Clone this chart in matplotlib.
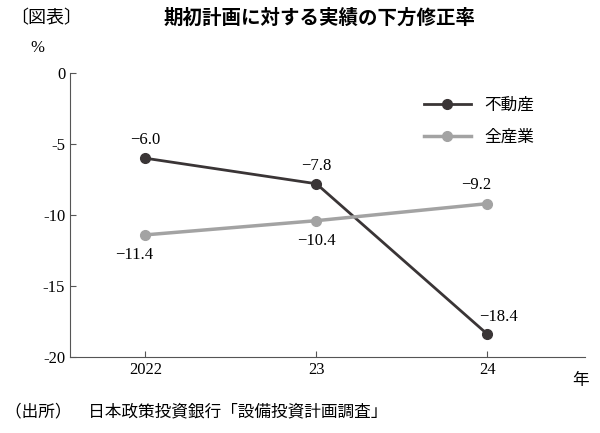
import matplotlib
matplotlib.use("Agg")
import matplotlib.pyplot as plt

years = ["2022", "23", "24"]
realestate = [-6.0, -7.8, -18.4]
allind = [-11.4, -10.4, -9.2]
yticks = [0, -5, -10, -15, -20]
ytick_labels = ["0", "-5", "-10", "-15", "-20"]

JP = ["Noto Sans CJK JP", "DejaVu Sans"]
SER = ["Liberation Serif", "Noto Sans CJK JP"]

fig = plt.figure(figsize=(6.0, 4.33), dpi=100)
ax = fig.add_axes([70/600, 1-357/433, 515/600, (357-73)/433])
x = list(range(len(years)))
ax.plot(x, realestate, color="#3a3536", lw=2, marker="o", ms=7, label="不動産")
ax.plot(x, allind, color="#a3a3a3", lw=2.5, marker="o", ms=7, label="全産業")
ax.set_xlim(-0.44, 2.57)
ax.set_ylim(-20, 0)
ax.set_yticks(yticks)
ax.set_yticklabels(ytick_labels, family=SER, fontsize=12)
ax.set_xticks(x)
ax.set_xticklabels(years, family=SER, fontsize=12)
ax.tick_params(axis="both", direction="in", length=4, color="#555555")
for s in ["top", "right"]:
    ax.spines[s].set_visible(False)
for s in ["left", "bottom"]:
    ax.spines[s].set_color("#555555")

offs_r = [(0, 7), (0, 7), (8, 7)]
for i, v in enumerate(realestate):
    ax.annotate(f"−{abs(v):.1f}", (i, v), xytext=offs_r[i], textcoords="offset points",
                ha="center", va="bottom", family=SER, fontsize=12)
offs_a = [(-8, -9), (0, -9), (-8, 8)]
for i, v in enumerate(allind):
    ax.annotate(f"−{abs(v):.1f}", (i, v), xytext=offs_a[i], textcoords="offset points",
                ha="center", va="top" if offs_a[i][1] < 0 else "bottom", family=SER, fontsize=12)

leg = ax.legend(loc="upper right", bbox_to_anchor=(0.93, 0.97), frameon=False,
                prop={"family": JP, "size": 12}, handlelength=2.8, labelspacing=0.9)

fig.text(10/600, 1-18/433, "〔図表〕", family=JP, fontsize=13, va="center")
fig.text(320/600, 1-18/433, "期初計画に対する実績の下方修正率", family=JP, fontsize=14,
         weight="bold", ha="center", va="center")
fig.text(30/600, 1-48/433, "%", family=SER, fontsize=12, va="center")
fig.text(572/600, 1-381/433, "年", family=JP, fontsize=12, va="center")
fig.text(5/600, 1-412/433, "（出所）　日本政策投資銀行「設備投資計画調査」", family=JP, fontsize=12, va="center")

fig.savefig("out.png", dpi=100)
